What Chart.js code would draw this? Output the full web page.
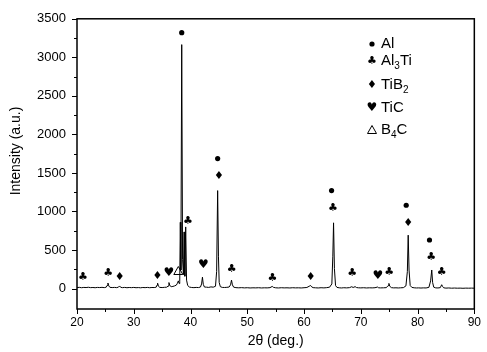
<!DOCTYPE html>
<html>
<head>
<meta charset="utf-8">
<script src="https://cdn.jsdelivr.net/npm/chart.js@4.4.0/dist/chart.umd.min.js"></script>
<style>
  html, body { margin: 0; padding: 0; background: #fff; }
</style>
</head>
<body>
<canvas id="xrdChart" width="487" height="352"></canvas>
<script>
// XRD scan, [2theta, intensity]
const scan = [
  [20.0,12],[20.4,16],[20.8,11],[21.2,15],[21.6,13],[22.0,17],[22.4,12],[22.8,14],[23.2,11],[23.6,15],[24.0,13],[24.4,16],[24.8,12],
  [25.15,18],[25.3,40],[25.45,72],[25.6,35],[25.8,16],[26.2,13],[26.6,15],[27.0,12],[27.3,18],[27.5,34],[27.7,16],
  [28.0,12],[28.4,15],[28.8,11],[29.2,14],[29.6,12],[30.0,15],[30.4,11],[30.8,13],[31.2,10],[31.6,14],[32.0,12],[32.4,15],[32.8,11],[33.2,14],[33.6,13],
  [33.95,18],[34.1,45],[34.2,70],[34.35,30],[34.6,15],[35.0,13],[35.4,16],[35.8,18],
  [36.05,32],[36.2,78],[36.35,40],[36.6,25],[36.9,28],[37.2,35],[37.5,45],[37.7,70],[37.85,100],[38.0,65],
  [38.1,95],[38.2,860],[38.3,240],[38.45,3165],[38.6,380],[38.75,180],[38.87,735],[39.0,160],[39.15,800],[39.3,110],[39.5,40],[39.8,20],
  [40.2,14],[40.6,12],[41.0,15],[41.4,13],[41.75,20],[41.95,60],[42.1,148],[42.25,55],[42.45,20],[42.8,18],[43.2,15],[43.6,22],[44.0,18],
  [44.4,30],[44.6,220],[44.78,1271],[44.92,420],[45.05,80],[45.25,25],[45.6,15],[46.0,14],[46.4,16],[46.8,20],
  [47.05,48],[47.22,110],[47.38,48],[47.6,18],[48.0,12],[48.5,10],[49.0,12],[49.5,9],[50.0,11],[50.5,8],[51.0,10],[51.5,9],[52.0,11],[52.5,8],[53.0,10],[53.5,9],[54.0,12],[54.4,28],[54.6,16],
  [55.0,10],[55.5,8],[56.0,11],[56.5,9],[57.0,10],[57.5,8],[58.0,11],[58.5,9],[59.0,10],[59.5,8],[60.0,11],[60.5,14],[60.9,30],[61.15,40],[61.35,22],[61.6,12],
  [62.0,10],[62.5,8],[63.0,11],[63.5,9],[64.0,12],[64.5,18],[64.9,60],[65.07,420],[65.2,853],[65.35,260],[65.55,40],[65.8,15],
  [66.2,10],[66.6,8],[67.0,11],[67.5,9],[68.0,12],[68.4,24],[68.65,14],[69.0,25],[69.25,13],[69.6,10],[70.0,9],[70.5,11],[71.0,8],[71.5,10],[72.0,9],[72.5,11],[72.95,20],[73.15,10],
  [73.5,9],[74.0,10],[74.5,12],[74.8,38],[74.95,67],[75.1,30],[75.4,12],[75.8,9],[76.2,10],[76.6,8],[77.0,10],[77.5,12],
  [77.95,35],[78.2,220],[78.35,693],[78.5,240],[78.7,40],[79.0,15],[79.4,10],[79.8,8],[80.2,9],[80.6,7],[81.0,9],[81.5,8],
  [82.0,16],[82.3,100],[82.5,241],[82.65,80],[82.85,18],[83.2,9],[83.6,8],[84.0,12],[84.25,50],[84.4,28],[84.6,10],
  [85.0,6],[85.5,8],[86.0,5],[86.5,7],[87.0,5],[87.5,6],[88.0,4],[88.5,6],[89.0,5],[89.5,6],[90.0,5]
];

// axis ticks
const xTicks = [20, 30, 40, 50, 60, 70, 80, 90];
const xMinor = [25, 35, 45, 55, 65, 75, 85];
const yTicks = [0, 500, 1000, 1500, 2000, 2500, 3000, 3500];
const yMinor = [250, 750, 1250, 1750, 2250, 2750, 3250];

// phase markers above the peaks
const markerX = [21.05, 25.5, 27.5, 34.15, 36.2, 37.85, 38.45, 39.55, 42.25, 44.78, 45.0, 47.24, 54.45, 61.18, 64.85, 65.1, 68.5, 73.0, 75.0, 78.0, 78.35, 82.1, 82.4, 84.25];
const markerY = [143, 194, 143, 165, 207, 228, 3320, 870, 313, 1686, 1454, 250, 131, 143, 1271, 1039, 194, 165, 215, 1081, 853, 630, 406, 219];
const markerSym = ['club', 'club', 'diamond', 'diamond', 'heart', 'delta', 'dot', 'club', 'heart', 'dot', 'diamond', 'club', 'club', 'diamond', 'dot', 'club', 'club', 'heart', 'club', 'dot', 'diamond', 'dot', 'club', 'club'];

// legend: odd parts are subscripts
const legendSym = ['dot', 'club', 'diamond', 'heart', 'delta'];
const legendText = [['Al'], ['Al', '3', 'Ti'], ['TiB', '2'], ['TiC'], ['B', '4', 'C']];

function drawSym(ctx, sym, x, y) {
    ctx.fillStyle = '#000';
    ctx.strokeStyle = '#000';
    if (sym === 'dot') {
        ctx.beginPath();
        ctx.arc(x, y, 2.6, 0, Math.PI * 2);
        ctx.fill();
    } else if (sym === 'delta') {
        ctx.lineWidth = 1;
        ctx.beginPath();
        ctx.moveTo(x, y - 4.5);
        ctx.lineTo(x + 4.5, y + 3.5);
        ctx.lineTo(x - 4.5, y + 3.5);
        ctx.closePath();
        ctx.stroke();
    } else {
        const ch = { club: '\u2663', diamond: '\u2666', heart: '\u2665' }[sym];
        ctx.font = (sym === 'heart' ? '12px' : '11px') + ' "DejaVu Sans"';
        ctx.textAlign = 'center';
        ctx.textBaseline = 'middle';
        ctx.fillText(ch, x, y);
    }
}

const decor = {
    id: 'decor',
    afterDraw(chart) {
        const ctx = chart.ctx, a = chart.chartArea;
        const xs = chart.scales.x, ys = chart.scales.y;
        ctx.save();

        // frame
        ctx.strokeStyle = '#000';
        ctx.lineWidth = 1.5;
        ctx.strokeRect(a.left, a.top, a.right - a.left, a.bottom - a.top);

        // outward ticks
        ctx.lineWidth = 1;
        ctx.beginPath();
        xTicks.forEach(v => { const p = Math.round(xs.getPixelForValue(v)) + 0.5; ctx.moveTo(p, a.bottom); ctx.lineTo(p, a.bottom + 5); });
        xMinor.forEach(v => { const p = Math.round(xs.getPixelForValue(v)) + 0.5; ctx.moveTo(p, a.bottom); ctx.lineTo(p, a.bottom + 3); });
        yTicks.forEach(v => { const p = Math.round(ys.getPixelForValue(v)) + 0.5; ctx.moveTo(a.left, p); ctx.lineTo(a.left - 5, p); });
        yMinor.forEach(v => { const p = Math.round(ys.getPixelForValue(v)) + 0.5; ctx.moveTo(a.left, p); ctx.lineTo(a.left - 3, p); });
        ctx.stroke();

        // axis titles
        ctx.fillStyle = '#000';
        ctx.font = '14px "Liberation Sans"';
        ctx.textAlign = 'center';
        ctx.textBaseline = 'middle';
        ctx.fillText('2\u03b8 (deg.)', (a.left + a.right) / 2, 341);
        ctx.save();
        ctx.translate(16, 151);
        ctx.rotate(-Math.PI / 2);
        ctx.fillText('Intensity (a.u.)', 0, 0);
        ctx.restore();

        // peak markers
        markerX.forEach((v, i) => {
            drawSym(ctx, markerSym[i], xs.getPixelForValue(v), ys.getPixelForValue(markerY[i]));
        });

        // legend
        const rowY = [44, 61, 85, 108, 130];
        legendSym.forEach((s, i) => {
            drawSym(ctx, s, 372, rowY[i]);
            let x = 381;
            legendText[i].forEach((part, j) => {
                ctx.fillStyle = '#000';
                ctx.textAlign = 'left';
                ctx.textBaseline = 'middle';
                if (j % 2 === 1) {
                    ctx.font = '10px "Liberation Sans"';
                    ctx.fillText(part, x, rowY[i] + 5);
                } else {
                    ctx.font = '15px "Liberation Sans"';
                    ctx.fillText(part, x, rowY[i]);
                }
                x += ctx.measureText(part).width;
            });
        });

        ctx.restore();
    }
};

const ctx = document.getElementById('xrdChart').getContext('2d');
const xrdChart = new Chart(ctx, {
    type: 'line',
    data: {
        datasets: [{
            data: scan.map(p => ({ x: p[0], y: p[1] })),
            borderColor: '#000',
            borderWidth: 1,
            pointRadius: 0,
            tension: 0,
            fill: false
        }]
    },
    options: {
        responsive: false,
        animation: false,
        devicePixelRatio: 1,
        layout: { padding: { top: 12, right: 11, left: 0, bottom: 0 } },
        plugins: { legend: { display: false }, tooltip: { enabled: false } },
        scales: {
            x: {
                type: 'linear',
                min: 20,
                max: 90,
                afterBuildTicks: s => { s.ticks = xTicks.map(v => ({ value: v })); },
                afterFit: s => { s.height = 43; },
                grid: { display: false, drawTicks: false },
                border: { display: false },
                ticks: { padding: 6, color: '#000', font: { family: 'Liberation Sans', size: 12 }, maxRotation: 0, callback: v => String(v) }
            },
            y: {
                type: 'linear',
                min: -265,
                max: 3500,
                afterBuildTicks: s => { s.ticks = yTicks.map(v => ({ value: v })); },
                afterFit: s => { s.width = 77; },
                grid: { display: false, drawTicks: false },
                border: { display: false },
                ticks: { padding: 11, color: '#000', font: { family: 'Liberation Sans', size: 13 }, callback: v => String(v) }
            }
        }
    },
    plugins: [decor]
});
</script>
</body>
</html>
